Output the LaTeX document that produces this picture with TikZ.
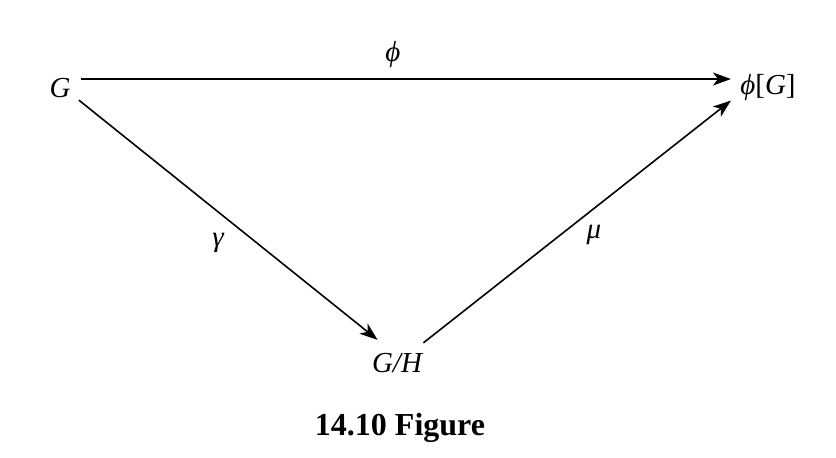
\documentclass[tikz,border=0pt]{standalone}
\usepackage{fontspec}
\setmainfont{Liberation Serif}
\usetikzlibrary{positioning,arrows.meta}

\begin{document}
\begin{tikzpicture}[x=0.5pt,y=-0.5pt,
  obj/.style={inner sep=3pt,font=\fontsize{14.5}{17}\selectfont\itshape},
  lbl/.style={font=\fontsize{14.5}{17}\selectfont\itshape},
  map/.style={-{Stealth[length=9pt,width=6.5pt,inset=2.5pt]},line width=0.8pt}]
\useasboundingbox (0,0) rectangle (836,457);
% objects
\node[obj] (G) at (60,88) {G};
\node[obj] (phiG) at (768,88) {ϕ{\upshape[}G{\upshape]}};
\node[obj] (GH) at (397,363) {G/H};
% maps
\draw[map] ([shift={(4,-9)}]G.east) -- ([shift={(-3,-9)}]phiG.west);
\draw[map] ([shift={(2,-4)}]G.south east) -- ([shift={(12,-7)}]GH.north west);
\draw[map] ([shift={(-5,-4)}]GH.north east) -- ([shift={(-3,-7)}]phiG.south west);
% labels
\node[lbl] (lphi) at (393,55) {ϕ};
\node[lbl] (lgamma) at (218,243) {γ};
\node[lbl] (lmu) at (594,235) {μ};
\node[font=\fontsize{16}{19}\selectfont\bfseries] (cap) at (400,428) {14.10 Figure};
\end{tikzpicture}
\end{document}
